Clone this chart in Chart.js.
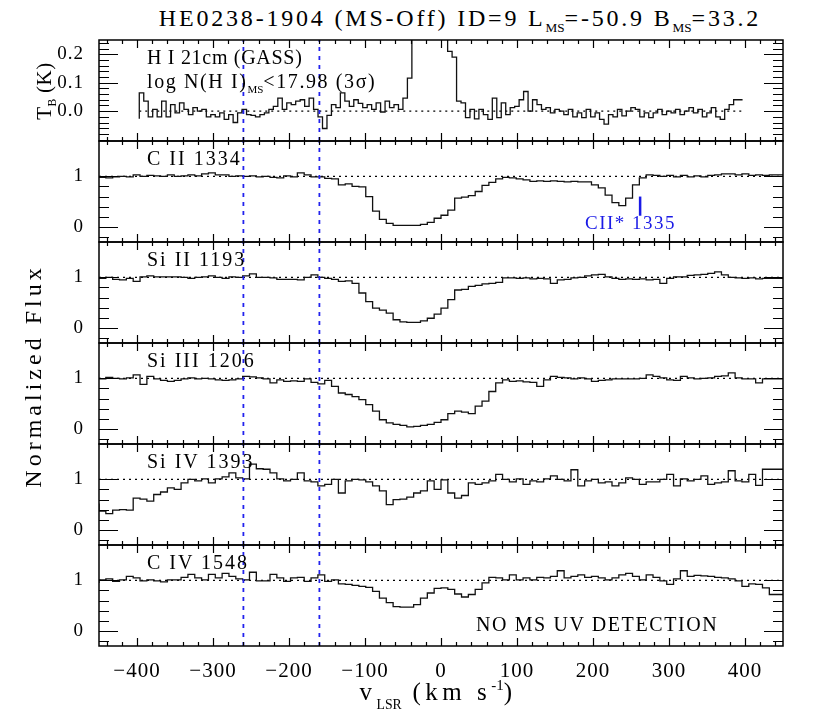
<!DOCTYPE html>
<html>
<head>
<meta charset="utf-8">
<title>HE0238-1904 (MS-Off)</title>
<script src="https://cdn.jsdelivr.net/npm/chart.js@4.4.1/dist/chart.umd.min.js"></script>
<style>
  html, body { margin: 0; padding: 0; background: #fff; }
  body { width: 830px; height: 727px; position: relative; overflow: hidden;
         font-family: "Liberation Serif", "Times New Roman", serif; color: #000; }
  canvas { position: absolute; left: 0; }
  .lbl { position: absolute; white-space: nowrap; line-height: 1; }
  .sb { font-size: 0.55em; position: relative; top: 0.45em; letter-spacing: 0; }
  .sb2 { font-size: 0.55em; position: relative; top: 0.65em; letter-spacing: 0; }
  .sp { font-size: 0.6em; position: relative; top: -0.65em; letter-spacing: 0; }
  .rot { transform: translate(-50%, -50%) rotate(-90deg); }
</style>
</head>
<body>
<canvas id="p0" width="830" height="105" style="top:38px"></canvas>
<canvas id="p1" width="830" height="105" style="top:139px"></canvas>
<canvas id="p2" width="830" height="105" style="top:240px"></canvas>
<canvas id="p3" width="830" height="105" style="top:341px"></canvas>
<canvas id="p4" width="830" height="105" style="top:442px"></canvas>
<canvas id="p5" width="830" height="148" style="top:543px"></canvas>

<div class="lbl" style="left:460px;top:6px;font-size:24px;letter-spacing:2.8px;transform:translateX(-50%)">HE0238-1904 (MS-Off) ID=9 L<span class="sb">MS</span>=-50.9 B<span class="sb">MS</span>=33.2</div>
<div class="lbl rot" style="left:44px;top:91px;font-size:21px;letter-spacing:0.5px">T<span class="sb">B</span> (K)</div>
<div class="lbl rot" style="left:33px;top:376px;font-size:24px;letter-spacing:4px">Normalized Flux</div>
<div class="lbl" style="left:438px;top:679px;font-size:25px;letter-spacing:4.5px;transform:translateX(-50%)">v<span class="sb2">LSR</span> (km s<span class="sp">-1</span>)</div>

<div class="lbl" style="left:147px;top:47px;font-size:20px;letter-spacing:0.7px">H I 21cm (GASS)</div>
<div class="lbl" style="left:147px;top:71px;font-size:20px;letter-spacing:1.6px">log N(H I)<span class="sb">MS</span>&lt;17.98 (3σ)</div>
<div class="lbl" style="left:147px;top:148px;font-size:20px;letter-spacing:2px">C II 1334</div>
<div class="lbl" style="left:147px;top:249px;font-size:20px;letter-spacing:2px">Si II 1193</div>
<div class="lbl" style="left:147px;top:350px;font-size:20px;letter-spacing:2px">Si III 1206</div>
<div class="lbl" style="left:147px;top:451px;font-size:20px;letter-spacing:2px">Si IV 1393</div>
<div class="lbl" style="left:147px;top:552px;font-size:20px;letter-spacing:2px">C IV 1548</div>
<div class="lbl" style="left:476px;top:614px;font-size:20px;letter-spacing:1.6px">NO MS UV DETECTION</div>
<div class="lbl" style="left:585px;top:213px;font-size:19px;letter-spacing:1.5px;color:#1a1ae6">CII* 1335</div>

<script>
// velocity axis (km/s)
const X_MIN = -450, X_MAX = 450;
const xMajorTicks = [-400, -300, -200, -100, 0, 100, 200, 300, 400];
const msLines = [-260, -160];
const cIIstarVel = 262;

// H I 21cm (GASS) brightness temperature, bins of 5.88 km/s from -397
const hiStart = -397, hiStep = 5.88;
const hiTemp = [
  -0.027, 0.064, 0.035, -0.020, 0.006, -0.020, 0.035, -0.020, 0.023, -0.006,
  0.029, 0.006, -0.012, 0.012, 0.000, 0.006, -0.020, -0.012, -0.020, -0.006,
  -0.029, -0.012, -0.040, -0.006, 0.006, -0.012, -0.015, -0.020, -0.012, -0.006,
  0.006, 0.017, 0.046, 0.006, 0.029, 0.023, 0.035, 0.040, 0.017, 0.046,
  0.006, -0.020, -0.061, -0.015, 0.023, 0.012, 0.064, 0.035, 0.017, 0.040,
  0.027, 0.012, 0.023, 0.006, 0.029, -0.003, 0.035, 0.012, 0.023, 0.006,
  0.046, 0.116, 0.5, 1.2, 2.1, 2.8, 3.1, 2.6, 1.8, 0.9,
  0.21, 0.19, 0.035, 0.029, -0.023, 0.006, -0.027, 0.006, -0.012, -0.029,
  0.046, -0.023, 0.029, -0.012, 0.012, 0.017, 0.040, 0.069, 0.000, 0.040,
  0.023, 0.006, 0.012, -0.006, 0.006, 0.000, -0.012, 0.006, -0.020, -0.006,
  -0.023, 0.006, -0.020, -0.006, -0.029, -0.046, -0.012, -0.020, 0.006, -0.017,
  0.000, 0.012, 0.006, -0.020, -0.006, -0.023, -0.006, 0.006, -0.012, 0.000,
  -0.006, 0.006, -0.012, 0.000, 0.012, -0.006, 0.006, -0.020, -0.006, 0.012,
  -0.020, -0.029, 0.006, 0.023, 0.040
];

// UV normalized flux, bins of 9 km/s from -450
const uvStart = -450, uvStep = 9;
const c2Flux = [
  0.98, 0.98, 0.97, 0.99, 1.00, 0.99, 1.03, 1.00, 1.02, 1.01,
  1.00, 1.03, 1.00, 1.01, 1.03, 1.01, 1.05, 1.07, 1.03, 1.03,
  1.00, 1.01, 1.00, 1.01, 0.99, 1.00, 0.98, 0.97, 1.01, 0.99,
  1.07, 1.03, 0.99, 0.99, 0.96, 0.95, 0.83, 0.85, 0.80, 0.79,
  0.60, 0.31, 0.15, 0.07, 0.03, 0.03, 0.03, 0.03, 0.05, 0.09,
  0.17, 0.23, 0.33, 0.57, 0.59, 0.62, 0.70, 0.82, 0.88, 0.95,
  0.98, 0.97, 0.95, 0.93, 0.90, 0.91, 0.90, 0.91, 0.90, 0.89,
  0.90, 0.89, 0.89, 0.83, 0.77, 0.63, 0.48, 0.42, 0.57, 0.83,
  0.97, 1.03, 1.02, 1.00, 1.02, 0.99, 1.02, 0.99, 1.01, 0.99,
  1.02, 1.03, 1.05, 1.05, 1.03, 1.05, 1.02, 1.03, 1.02, 1.03
];
const si2Flux = [
  1.00, 0.98, 1.00, 0.96, 0.95, 0.98, 0.92, 1.01, 1.03, 1.01,
  1.01, 1.01, 1.01, 1.00, 0.98, 1.00, 1.01, 1.03, 1.00, 0.98,
  1.01, 1.00, 1.03, 1.07, 1.00, 1.00, 0.99, 0.96, 0.96, 0.96,
  0.95, 1.00, 1.05, 1.00, 0.98, 0.96, 0.92, 0.93, 0.88, 0.69,
  0.52, 0.39, 0.35, 0.29, 0.16, 0.12, 0.11, 0.11, 0.14, 0.19,
  0.27, 0.39, 0.56, 0.75, 0.76, 0.82, 0.84, 0.87, 0.88, 0.90,
  0.99, 0.99, 0.98, 0.99, 0.97, 0.98, 0.97, 0.88, 0.95, 0.96,
  0.99, 1.00, 1.03, 1.05, 1.06, 1.01, 0.98, 0.96, 0.97, 0.96,
  0.97, 0.95, 0.96, 0.88, 0.98, 1.01, 1.01, 1.04, 1.05, 1.06,
  1.08, 1.11, 1.05, 1.00, 0.99, 0.98, 0.99, 0.97, 0.98, 0.98
];
const si3Flux = [
  1.01, 0.99, 1.02, 1.00, 0.99, 1.01, 1.07, 0.88, 1.04, 0.99,
  0.96, 0.94, 0.96, 0.99, 1.01, 0.99, 1.00, 0.99, 0.97, 0.96,
  0.97, 0.99, 1.04, 1.03, 1.01, 0.99, 0.91, 0.97, 0.94, 0.95,
  0.94, 0.99, 0.92, 0.89, 0.96, 0.84, 0.71, 0.68, 0.64, 0.58,
  0.48, 0.35, 0.18, 0.12, 0.09, 0.07, 0.04, 0.05, 0.07, 0.09,
  0.13, 0.18, 0.30, 0.35, 0.33, 0.30, 0.45, 0.55, 0.74, 0.91,
  0.97, 0.94, 0.95, 0.93, 0.92, 0.84, 0.97, 1.04, 1.02, 1.01,
  0.99, 1.01, 0.99, 0.94, 0.96, 0.97, 0.99, 0.99, 0.99, 0.99,
  1.00, 1.07, 1.04, 1.01, 0.97, 0.96, 1.04, 1.01, 0.99, 1.00,
  1.01, 1.04, 1.05, 1.11, 1.01, 0.99, 0.99, 0.91, 0.99, 0.99
];
const si4Flux = [
  0.52, 0.37, 0.32, 0.39, 0.40, 0.39, 0.63, 0.61, 0.57, 0.70,
  0.75, 0.83, 0.80, 0.93, 1.00, 0.97, 1.01, 0.93, 1.01, 1.05,
  1.13, 1.03, 1.01, 1.30, 1.21, 1.20, 1.13, 1.01, 0.97, 1.00,
  1.13, 0.97, 0.95, 0.87, 0.90, 1.00, 0.73, 0.97, 1.00, 0.99,
  0.95, 0.87, 0.77, 0.50, 0.60, 0.61, 0.65, 0.73, 0.77, 0.97,
  0.80, 0.99, 0.73, 0.63, 0.68, 0.93, 0.90, 0.93, 0.97, 1.10,
  1.00, 0.95, 1.01, 0.90, 0.97, 0.95, 1.01, 1.07, 1.00, 0.97,
  1.19, 0.87, 0.97, 1.00, 0.93, 0.95, 0.87, 0.93, 1.03, 1.00,
  0.90, 0.95, 0.95, 1.00, 1.10, 0.87, 1.01, 0.97, 1.00, 1.07,
  0.90, 0.93, 0.95, 1.17, 0.97, 0.95, 1.10, 0.88, 1.20, 1.20
];
const c4Flux = [
  0.95, 1.01, 1.03, 0.98, 1.01, 1.08, 1.05, 0.99, 1.01, 0.99,
  0.97, 1.01, 1.01, 1.06, 1.12, 1.05, 1.01, 1.12, 1.05, 1.14,
  1.08, 1.03, 1.01, 1.16, 0.99, 0.99, 1.12, 1.05, 0.98, 1.05,
  1.06, 0.98, 1.05, 1.11, 0.98, 1.01, 0.93, 0.92, 0.90, 0.88,
  0.86, 0.78, 0.65, 0.56, 0.48, 0.47, 0.47, 0.52, 0.65, 0.75,
  0.84, 0.85, 0.82, 0.73, 0.67, 0.72, 0.82, 0.95, 1.06, 1.05,
  1.01, 1.11, 1.01, 1.05, 1.01, 1.06, 1.05, 1.08, 1.19, 1.05,
  1.08, 1.11, 1.06, 1.08, 1.05, 1.01, 1.05, 1.11, 1.14, 1.08,
  1.01, 1.11, 1.06, 0.99, 0.92, 1.03, 1.19, 1.08, 1.10, 1.09,
  1.08, 1.06, 1.05, 1.03, 0.99, 0.88, 0.93, 0.92, 0.85, 0.72
];

// y-axis ticks
const hiLabelTicks = [0, 0.1, 0.2];
const hiMinorTicks = [-0.1, -0.08, -0.06, -0.04, -0.02, 0.02, 0.04, 0.06, 0.08, 0.12, 0.14, 0.16, 0.18, 0.22, 0.24];
const uvLabelTicks = [0, 1];
const uvMinorTicks = [-0.2, 0.2, 0.4, 0.6, 0.8];

const FONT = '"Liberation Serif", "Times New Roman", serif';

// histogram bins -> points for a step line (last bin closed at its right edge)
function toSteps(start, step, vals) {
  const pts = vals.map((v, i) => ({ x: start + i * step, y: v }));
  pts.push({ x: start + vals.length * step, y: vals[vals.length - 1] });
  return pts;
}

// frame and inward tick marks, PGPLOT style
const framePlugin = {
  id: 'frame',
  beforeDraw(chart) {
    chart.ctx.letterSpacing = '1px';
  },
  afterDraw(chart, args, opts) {
    const { ctx, chartArea: a, scales: { x, y } } = chart;
    ctx.save();
    ctx.strokeStyle = '#000';
    ctx.lineWidth = 1.2;
    ctx.beginPath();
    for (let v = -440; v <= 440; v += 20) {
      const px = Math.round(x.getPixelForValue(v)) + 0.5;
      const len = v % 100 === 0 ? 8 : 4;
      ctx.moveTo(px, a.top); ctx.lineTo(px, a.top + len);
      ctx.moveTo(px, a.bottom); ctx.lineTo(px, a.bottom - len);
    }
    const yt = (list, len) => list.forEach(v => {
      const py = Math.round(y.getPixelForValue(v)) + 0.5;
      ctx.moveTo(a.left, py); ctx.lineTo(a.left + len, py);
      ctx.moveTo(a.right, py); ctx.lineTo(a.right - len, py);
    });
    yt(opts.major, 19);
    yt(opts.minor, 10);
    ctx.stroke();
    ctx.lineWidth = 1.5;
    ctx.strokeRect(a.left, a.top, a.right - a.left, a.bottom - a.top);
    ctx.restore();
  }
};

const panels = [
  { id: 'p0', vals: hiTemp, start: hiStart, step: hiStep, yMin: -0.105, yMax: 0.25, ref: 0,
    refFrom: hiStart, refTo: hiStart + hiTemp.length * hiStep,
    major: hiLabelTicks, minor: hiMinorTicks, fmt: v => v.toFixed(1) },
  { id: 'p1', vals: c2Flux, start: uvStart, step: uvStep, yMin: -0.3, yMax: 1.7, ref: 1,
    refFrom: X_MIN, refTo: X_MAX, major: uvLabelTicks, minor: uvMinorTicks, fmt: v => String(v),
    marker: true },
  { id: 'p2', vals: si2Flux, start: uvStart, step: uvStep, yMin: -0.3, yMax: 1.7, ref: 1,
    refFrom: X_MIN, refTo: X_MAX, major: uvLabelTicks, minor: uvMinorTicks, fmt: v => String(v) },
  { id: 'p3', vals: si3Flux, start: uvStart, step: uvStep, yMin: -0.3, yMax: 1.7, ref: 1,
    refFrom: X_MIN, refTo: X_MAX, major: uvLabelTicks, minor: uvMinorTicks, fmt: v => String(v) },
  { id: 'p4', vals: si4Flux, start: uvStart, step: uvStep, yMin: -0.3, yMax: 1.7, ref: 1,
    refFrom: X_MIN, refTo: X_MAX, major: uvLabelTicks, minor: uvMinorTicks, fmt: v => String(v) },
  { id: 'p5', vals: c4Flux, start: uvStart, step: uvStep, yMin: -0.3, yMax: 1.7, ref: 1,
    refFrom: X_MIN, refTo: X_MAX, major: uvLabelTicks, minor: uvMinorTicks, fmt: v => String(v),
    bottom: true }
];

panels.forEach(p => {
  const datasets = [
    // blue dotted lines
    ...msLines.map(v => ({
      data: [{ x: v, y: p.yMin }, { x: v, y: p.yMax }],
      borderColor: '#2222ee', borderWidth: 1.8, borderDash: [4, 5],
      pointRadius: 0, order: 0
    })),
    // spectrum
    {
      data: toSteps(p.start, p.step, p.vals),
      borderColor: '#111', borderWidth: 1.3, stepped: 'after',
      pointRadius: 0, clip: 0, order: 1
    },
    // continuum / zero level
    {
      data: [{ x: p.refFrom, y: p.ref }, { x: p.refTo, y: p.ref }],
      borderColor: '#000', borderWidth: 1.1, borderDash: [2, 4],
      pointRadius: 0, order: 2
    }
  ];
  if (p.marker) {
    datasets.push({
      data: [{ x: cIIstarVel, y: 0.22 }, { x: cIIstarVel, y: 0.6 }],
      borderColor: '#1a1ae6', borderWidth: 2.5, pointRadius: 0, order: 0
    });
  }

  new Chart(document.getElementById(p.id), {
    type: 'line',
    data: { datasets },
    options: {
      responsive: false,
      animation: false,
      events: [],
      layout: { padding: { left: 0, right: 47, top: 2, bottom: p.bottom ? 0 : 2 } },
      plugins: {
        legend: { display: false },
        tooltip: { enabled: false },
        frame: { major: p.major, minor: p.minor }
      },
      scales: {
        x: {
          type: 'linear', min: X_MIN, max: X_MAX, display: !!p.bottom,
          grid: { display: false }, border: { display: false },
          afterBuildTicks: s => { s.ticks = xMajorTicks.map(v => ({ value: v })); },
          afterFit: s => {
            if (p.bottom) s.height = 45;
            s.paddingLeft = 0; s.paddingRight = 0;
          },
          ticks: {
            font: { family: FONT, size: 21 }, color: '#000', padding: 5,
            maxRotation: 0, autoSkip: false,
            callback: v => (v < 0 ? '\u2212' + (-v) : String(v))
          }
        },
        y: {
          min: p.yMin, max: p.yMax,
          grid: { display: false }, border: { display: false },
          afterBuildTicks: s => { s.ticks = p.major.map(v => ({ value: v })); },
          afterFit: s => { s.width = 99; s.paddingTop = 0; s.paddingBottom = 0; },
          ticks: { font: { family: FONT, size: 19 }, color: '#000', padding: 7, callback: p.fmt }
        }
      }
    },
    plugins: [framePlugin]
  });
});
</script>
</body>
</html>
